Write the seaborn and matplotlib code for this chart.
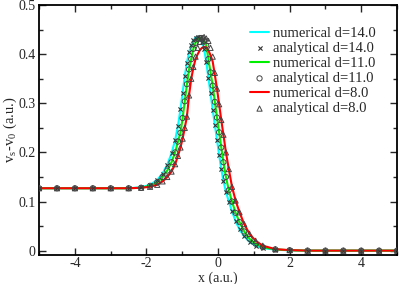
import matplotlib
matplotlib.use("Agg")
import matplotlib.pyplot as plt
from matplotlib.ticker import MultipleLocator
import seaborn as sns
import pandas as pd

x_grid = [-5, -4.5, -4, -3.5, -3, -2.5, -2.15, -1.9, -1.7, -1.55, -1.42, -1.3, -1.2, -1.12,
          -1.05, -0.99, -0.93, -0.87, -0.81, -0.75, -0.69, -0.63, -0.57, -0.51, -0.45, -0.39,
          -0.33, -0.27, -0.21, -0.15, -0.09, -0.03, 0.03, 0.09, 0.15, 0.22, 0.3, 0.39, 0.49,
          0.6, 0.73, 0.88, 1.05, 1.25, 1.6, 2, 2.5, 3, 3.5, 4, 4.5, 5]

y_d14 = [0.127, 0.127, 0.127, 0.127, 0.127, 0.127, 0.129, 0.134, 0.144, 0.157, 0.175, 0.198,
         0.225, 0.254, 0.288, 0.322, 0.355, 0.383, 0.404, 0.418, 0.428, 0.434, 0.436, 0.433,
         0.425, 0.410, 0.385, 0.352, 0.320, 0.287, 0.256, 0.226, 0.195, 0.166, 0.142, 0.120,
         0.100, 0.080, 0.060, 0.043, 0.029, 0.018, 0.010, 0.005, 0.002, 0.0005, 0, 0, 0, 0, 0, 0]

y_d11 = [0.127, 0.127, 0.127, 0.127, 0.127, 0.127, 0.128, 0.132, 0.139, 0.150, 0.163, 0.180,
         0.200, 0.222, 0.240, 0.270, 0.304, 0.339, 0.369, 0.390, 0.411, 0.423, 0.431, 0.433,
         0.433, 0.428, 0.418, 0.390, 0.363, 0.336, 0.303, 0.271, 0.241, 0.210, 0.180, 0.150,
         0.123, 0.100, 0.077, 0.058, 0.039, 0.024, 0.014, 0.007, 0.0025, 0.0008, 0, 0, 0, 0, 0, 0]

y_d8_num = [0.127, 0.127, 0.127, 0.127, 0.127, 0.127, 0.128, 0.130, 0.134, 0.141, 0.150, 0.161,
            0.176, 0.193, 0.210, 0.228, 0.250, 0.273, 0.316, 0.350, 0.372, 0.390, 0.400, 0.408,
            0.413, 0.415, 0.414, 0.408, 0.398, 0.385, 0.358, 0.330, 0.298, 0.266, 0.236, 0.200,
            0.166, 0.130, 0.102, 0.078, 0.054, 0.034, 0.020, 0.010, 0.003, 0.001, 0, 0, 0, 0, 0, 0]

y_d8_ana = [0.127, 0.127, 0.127, 0.127, 0.127, 0.127, 0.128, 0.130, 0.134, 0.141, 0.150, 0.161,
            0.176, 0.193, 0.210, 0.228, 0.250, 0.273, 0.316, 0.350, 0.374, 0.395, 0.413, 0.425,
            0.432, 0.435, 0.432, 0.427, 0.413, 0.395, 0.362, 0.330, 0.298, 0.266, 0.236, 0.200,
            0.166, 0.130, 0.102, 0.078, 0.054, 0.034, 0.020, 0.010, 0.003, 0.001, 0, 0, 0, 0, 0, 0]

labels_num = ["numerical d=14.0", "numerical d=11.0", "numerical d=8.0"]
labels_ana = ["analytical d=14.0", "analytical d=11.0", "analytical d=8.0"]
line_colors = ["#00ffff", "#00ee00", "#ff0000"]
markers = ["x", "o", "^"]

sns.set_style("ticks")
plt.rcParams["font.family"] = ["Liberation Serif", "DejaVu Serif"]
plt.rcParams["mathtext.fontset"] = "stix"

fig = plt.figure(figsize=(3.99, 2.84), dpi=100)
ax = fig.add_axes([0.098, 0.102, 0.897, 0.880])

num_series = [y_d14, y_d11, y_d8_num]
ana_series = [y_d14, y_d11, y_d8_ana]
for i in range(3):
    df_n = pd.DataFrame({"x": x_grid, "y": num_series[i]})
    sns.lineplot(data=df_n, x="x", y="y", ax=ax, color=line_colors[i], lw=1.5,
                 label=labels_num[i], sort=False, estimator=None)
    df_a = pd.DataFrame({"x": x_grid, "y": ana_series[i]})
    if markers[i] == "x":
        sns.scatterplot(data=df_a, x="x", y="y", ax=ax, marker="x", color="#333333",
                        s=9, linewidth=0.8, label=labels_ana[i], zorder=5)
    else:
        sns.scatterplot(data=df_a, x="x", y="y", ax=ax, marker=markers[i],
                        facecolor="none", edgecolor="#444444", s=14, linewidth=0.7,
                        label=labels_ana[i], zorder=5)

ax.set_xlim(-5, 5)
ax.set_ylim(-0.009, 0.5)
ax.xaxis.set_minor_locator(MultipleLocator(1))
ax.yaxis.set_minor_locator(MultipleLocator(0.05))
ax.set_xticks([-4, -2, 0, 2, 4])
ax.set_xticklabels(["-4", "-2", "0", "2", "4"])
ax.set_yticks([0, 0.1, 0.2, 0.3, 0.4, 0.5])
ax.set_yticklabels(["0", "0.1", "0.2", "0.3", "0.4", "0.5"])
ax.tick_params(which="both", direction="in", top=True, right=True, width=1.0, labelsize=10, pad=2.5)
ax.tick_params(axis="x", which="both", pad=1.5)
ax.tick_params(which="major", length=5)
ax.tick_params(which="minor", length=3)
for sp in ax.spines.values():
    sp.set_linewidth(1.3)
    sp.set_color("black")

ax.set_xlabel("x (a.u.)", fontsize=10)
ax.set_ylabel(r"v$_\mathregular{s}$-v$_\mathregular{0}$ (a.u.)", fontsize=10.5)
ax.xaxis.set_label_coords(0.5, -0.066)
ax.yaxis.set_label_coords(-0.057, 0.5)

leg = ax.legend(loc="upper right", bbox_to_anchor=(0.958, 0.937), frameon=False, fontsize=10.5,
                handlelength=1.3, handletextpad=0.3, labelspacing=0.13, borderaxespad=0)

fig.savefig("out.png", dpi=100)
